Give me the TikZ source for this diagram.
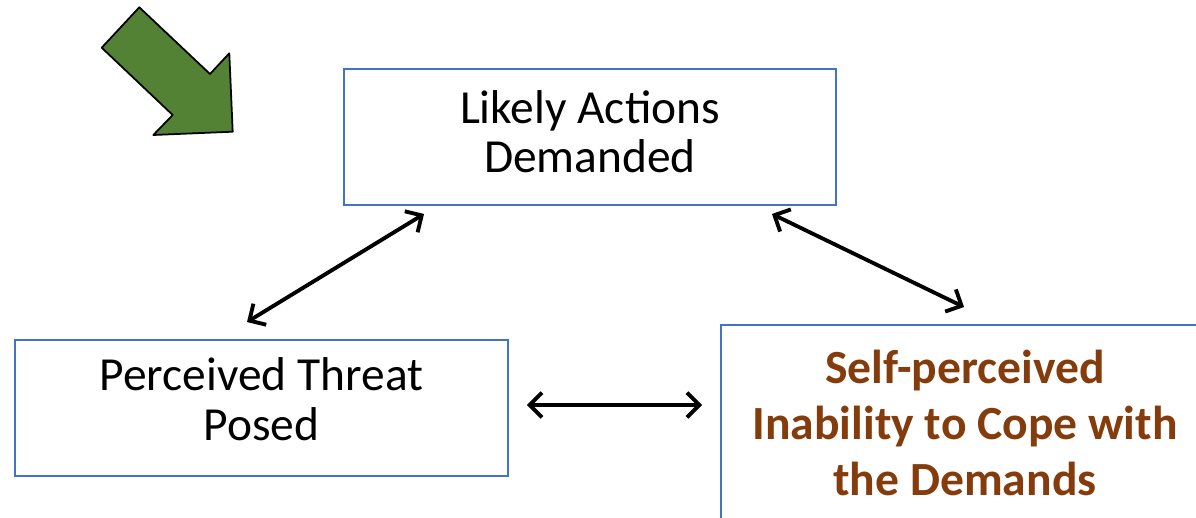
\documentclass[tikz,border=0pt]{standalone}
\usepackage{fontspec}
\setmainfont{Carlito}
\usepackage{tikz}
\usetikzlibrary{arrows.meta,calc,positioning}
\definecolor{BoxBlue}{HTML}{4472C4}
\definecolor{ArrowGreen}{HTML}{548235}
\definecolor{CopeBrown}{HTML}{843C0C}

\tikzset{
  factor/.style={draw=BoxBlue, line width=1.1pt, align=center, inner sep=0pt,
    font=\fontsize{27pt}{28.4pt}\selectfont},
  link/.style={line width=2.2pt, {Straight Barb[length=7pt,width=14pt]}-{Straight Barb[length=7pt,width=14pt]}}
}

\begin{document}
\begin{tikzpicture}[x=0.02cm, y=-0.02cm]
  \clip (0,0) rectangle (1196,517);

  % the three boxes
  \node[factor, minimum width=492*0.02cm, minimum height=136*0.02cm, text depth=6.2pt] (act) at (590,137)
    {Likely Actions\\Demanded};
  \node[factor, minimum width=493*0.02cm, minimum height=136*0.02cm, text depth=10.2pt] (thr) at (261.5,408)
    {Perceived Threat\\Posed};
  \node[factor, minimum width=488*0.02cm, minimum height=196*0.02cm, text=CopeBrown,
    font=\bfseries\fontsize{27.1pt}{32.1pt}\selectfont] (cope) at (965,423)
    {Self-perceived\\Inability to Cope with\\the Demands};

  % two-way links
  \draw[link] ([shift={(-14.5,-17)}]thr.north) -- ([shift={(81,8)}]act.south west);
  \draw[link] ([shift={(-65,8)}]act.south east) -- ([shift={(244,-17)}]cope.north west);
  \draw[link] ([shift={(18,-3)}]thr.east) -- ([shift={(-18,-18)}]cope.west);

  % green pointer
  \filldraw[fill=ArrowGreen, draw=black, line width=1pt, line join=round]
    (139.3,7.3) -- (101.7,47.7) -- (172.7,115) -- (153.3,135)
    -- (232.7,131.7) -- (229.3,53.3) -- (210,74) -- cycle;
\end{tikzpicture}
\end{document}
